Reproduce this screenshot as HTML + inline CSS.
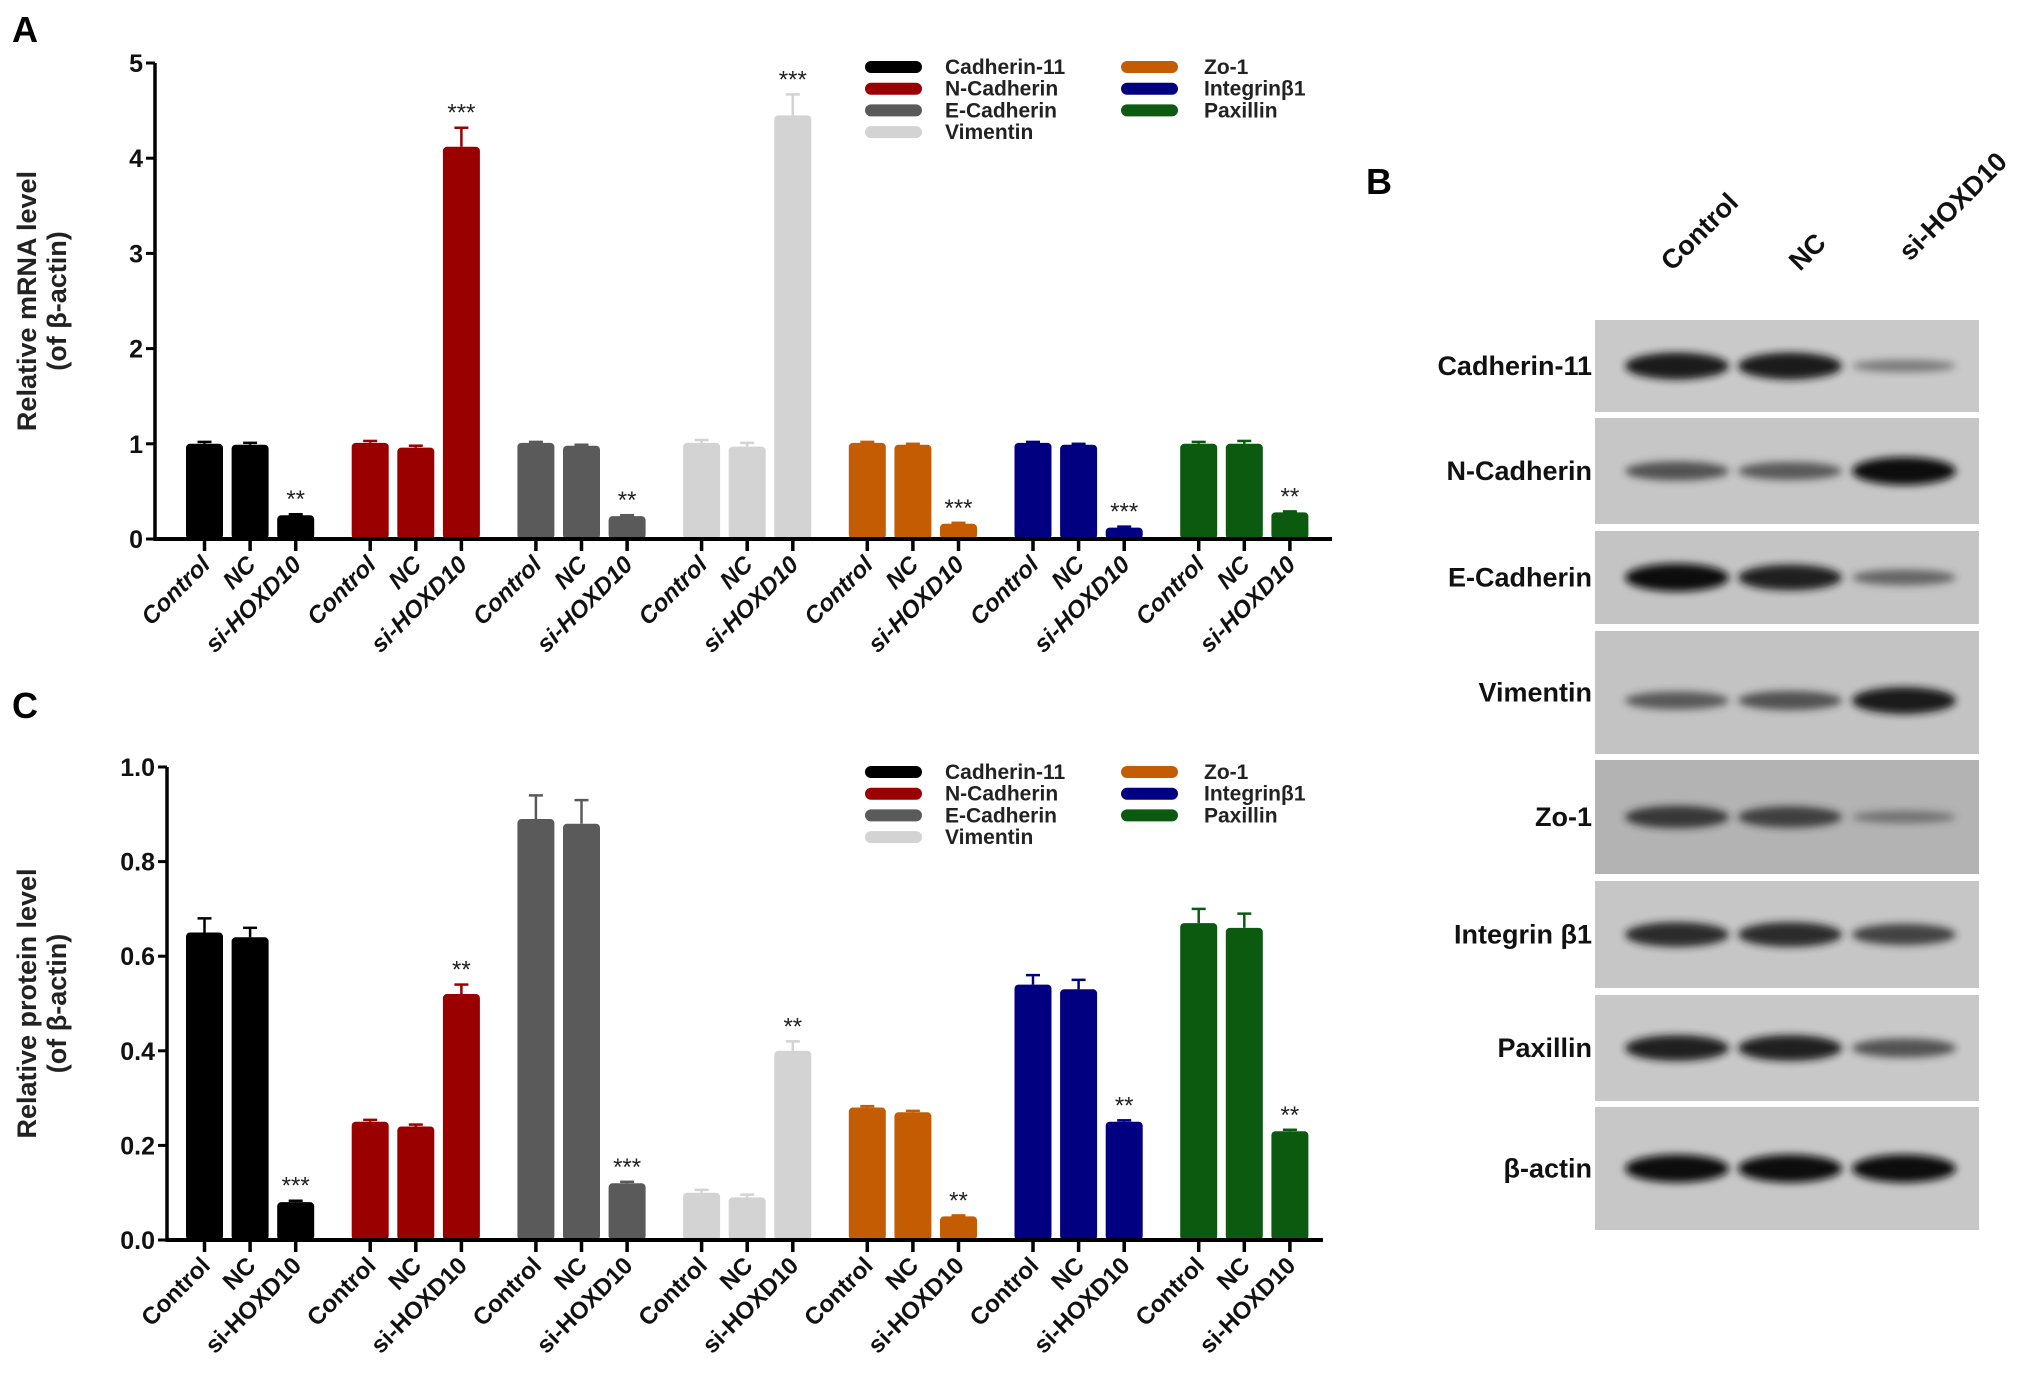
<!DOCTYPE html>
<html><head><meta charset="utf-8"><style>
body{margin:0;background:#fff;width:2031px;height:1382px;overflow:hidden}
svg{display:block}
text{font-family:"Liberation Sans",Arial,sans-serif}
</style></head><body>
<svg id="fig" width="2031" height="1382" viewBox="0 0 2031 1382">
<defs><filter id="blur" x="-20%" y="-50%" width="140%" height="200%"><feGaussianBlur stdDeviation="4"/></filter></defs>
<text x="12" y="42" font-size="36" font-weight="bold">A</text>
<text x="12" y="718" font-size="36" font-weight="bold">C</text>
<text x="1366" y="194" font-size="36" font-weight="bold">B</text>
<g id="pa"></g>
<g id="pc"></g>
<g id="pb"></g>
</svg>
<script>
const genes=["Cadherin-11","N-Cadherin","E-Cadherin","Vimentin","Zo-1","Integrinβ1","Paxillin"];
const groups=["Control","NC","si-HOXD10"];
const colors=["#000000","#9b0000","#5a5a5a","#d3d3d3","#c45c04","#000080","#0b5a10"];
const mrnaVals=[[1.0,0.99,0.25],[1.01,0.96,4.12],[1.01,0.98,0.24],[1.01,0.97,4.45],[1.01,0.99,0.16],[1.01,0.99,0.12],[1.0,1.0,0.28]];
const mrnaErr=[[0.02,0.02,0.01],[0.02,0.02,0.2],[0.01,0.01,0.01],[0.03,0.04,0.22],[0.01,0.01,0.01],[0.01,0.01,0.01],[0.02,0.03,0.01]];
const mrnaSig=["**","***","**","***","***","***","**"];
const mrnaTicks=[0,1,2,3,4,5];
const protVals=[[0.65,0.64,0.08],[0.25,0.24,0.52],[0.89,0.88,0.12],[0.10,0.09,0.40],[0.28,0.27,0.05],[0.54,0.53,0.25],[0.67,0.66,0.23]];
const protErr=[[0.03,0.02,0.003],[0.004,0.004,0.02],[0.05,0.05,0.003],[0.006,0.006,0.02],[0.003,0.003,0.002],[0.02,0.02,0.003],[0.03,0.03,0.003]];
const protSig=["***","**","***","**","**","**","**"];
const protTicks=[0,0.2,0.4,0.6,0.8,1.0];
const blotRows=["Cadherin-11","N-Cadherin","E-Cadherin","Vimentin","Zo-1","Integrin β1","Paxillin","β-actin"];
const blotIntensity=[[0.95,0.95,0.3],[0.6,0.55,1.0],[1.0,0.9,0.45],[0.55,0.6,0.95],[0.75,0.7,0.3],[0.85,0.85,0.7],[0.9,0.9,0.6],[1.0,1.0,1.0]];
const NS="http://www.w3.org/2000/svg";
function el(tag,attrs,parent,txt){const e=document.createElementNS(NS,tag);for(const k in attrs)e.setAttribute(k,attrs[k]);if(txt!==undefined)e.textContent=txt;parent.appendChild(e);return e;}

function chart(g,o){
  const {axX,yTop,yBot,xEnd,max,vals,errs,sigs,ticks,tickFmt,italic,title,legY}=o;
  const y=v=>yBot-(v/max)*(yBot-yTop);
  const bx=(gi,bi)=>186+gi*165.7+bi*45.6;
  const bw=37;
  vals.forEach((arr,gi)=>arr.forEach((v,bi)=>{
    const x=bx(gi,bi);
    const e=errs[gi][bi];
    const eb=el('line',{x1:x+bw/2,x2:x+bw/2,y1:y(v),y2:y(v+e),stroke:colors[gi],'stroke-width':2.5},g);
    
    
    const cap=el('line',{x1:x+bw/2-7,x2:x+bw/2+7,y1:y(v+e),y2:y(v+e),stroke:colors[gi],'stroke-width':2.5},g);
    
    
    const r=el('rect',{x:x,y:y(v),width:bw,height:yBot-y(v),rx:4,fill:colors[gi]},g);
    
    
    const tk=el('line',{x1:x+bw/2,x2:x+bw/2,y1:yBot,y2:yBot+12,stroke:'#000','stroke-width':3.5},g);
    
    
    const tx=x+bw/2+7, ty=yBot+27;
    const t=el('text',{x:tx,y:ty,'font-size':24,'font-weight':'bold','font-style':italic?'italic':'normal','text-anchor':'end',transform:`rotate(-45 ${tx} ${ty})`,fill:'#111'},g,groups[bi]);
    
    
    if(bi===2){
      const s=el('text',{x:x+bw/2,y:y(v+e)-7,'font-size':24,'text-anchor':'middle',fill:'#222'},g,sigs[gi]);
      
      
    }
  }));
  const ax=el('line',{x1:axX,x2:axX,y1:yTop,y2:yBot+1.5,stroke:'#000','stroke-width':3.5},g);
  
  
  const xa=el('line',{x1:axX-1.5,x2:xEnd,y1:yBot,y2:yBot,stroke:'#000','stroke-width':4},g);
  
  
  ticks.forEach(tv=>{
    const l=el('line',{x1:axX-9,x2:axX,y1:y(tv),y2:y(tv),stroke:'#000','stroke-width':3},g);
    
    
    const t=el('text',{x:axX-12,y:y(tv)+9,'font-size':25,'font-weight':'bold','text-anchor':'end',fill:'#111'},g,tickFmt(tv));
    
    
  });
  const cy=(yTop+yBot)/2;
  const t1=el('text',{x:36,y:cy,'font-size':27,'font-weight':'bold','text-anchor':'middle',transform:`rotate(-90 36 ${cy})`,fill:'#222'},g,title);
  
  
  const t2=el('text',{x:66,y:cy,'font-size':27,'font-weight':'bold','text-anchor':'middle',transform:`rotate(-90 66 ${cy})`,fill:'#222'},g,'(of β-actin)');
  
  
  genes.forEach((gn,i)=>{
    const col=i<4?0:1, row=i<4?i:i-4;
    const sx=col?1121:865, ly=legY+row*21.7;
    const sw=el('rect',{x:sx,y:ly-6,width:57,height:12,rx:6,fill:colors[i]},g);
    
    
    const lt=el('text',{x:col?1204:945,y:ly+7,'font-size':21,'font-weight':'bold',fill:'#222'},g,gn);
    
    
  });
}
chart(document.getElementById('pa'),{axX:155,yTop:63,yBot:539,xEnd:1332,max:5,vals:mrnaVals,errs:mrnaErr,sigs:mrnaSig,ticks:mrnaTicks,tickFmt:v=>String(v),italic:true,title:'Relative mRNA level',legY:67});
chart(document.getElementById('pc'),{axX:167,yTop:767,yBot:1240,xEnd:1323,max:1,vals:protVals,errs:protErr,sigs:protSig,ticks:protTicks,tickFmt:v=>v.toFixed(1),italic:false,title:'Relative protein level',legY:772});

const pb=document.getElementById('pb');
const rowsY=[[320,412],[418,524],[531,624],[631,754],[760,874],[881,988],[995,1101],[1107,1230]];
const bgs=["#c9c9c9","#c6c6c6","#c4c4c4","#c3c3c3","#b3b3b3","#c6c6c6","#c8c8c8","#c7c7c7"];
const lanes=[1677,1790,1904];
const laneLab=[[1672,272],[1800,272],[1910,262]];
groups.forEach((gname,i)=>{
  const [x,yy]=laneLab[i];
  const t=el('text',{x:x,y:yy,'font-size':27,'font-weight':'bold',transform:`rotate(-45 ${x} ${yy})`,fill:'#111'},pb,gname);
  
  
});
blotRows.forEach((rn,i)=>{
  const [a,b]=rowsY[i];
  const r=el('rect',{x:1595,y:a,width:384,height:b-a,fill:bgs[i]},pb);
  
  
  const t=el('text',{x:1592,y:(a+b)/2+9,'font-size':27,'font-weight':'bold','text-anchor':'end',fill:'#111'},pb,rn);
  
  
  const cy=(a+b)/2+(i===3?8:0);
  blotIntensity[i].forEach((v,j)=>{
    const h=6+v*22;
    const c=Math.round(90-v*75);
    const e=el('ellipse',{cx:lanes[j],cy:cy,rx:52,ry:h/2,fill:`rgb(${c},${c},${c})`,filter:'url(#blur)',opacity:0.4+0.6*v},pb);
    
    
  });
});
</script>
</body></html>
